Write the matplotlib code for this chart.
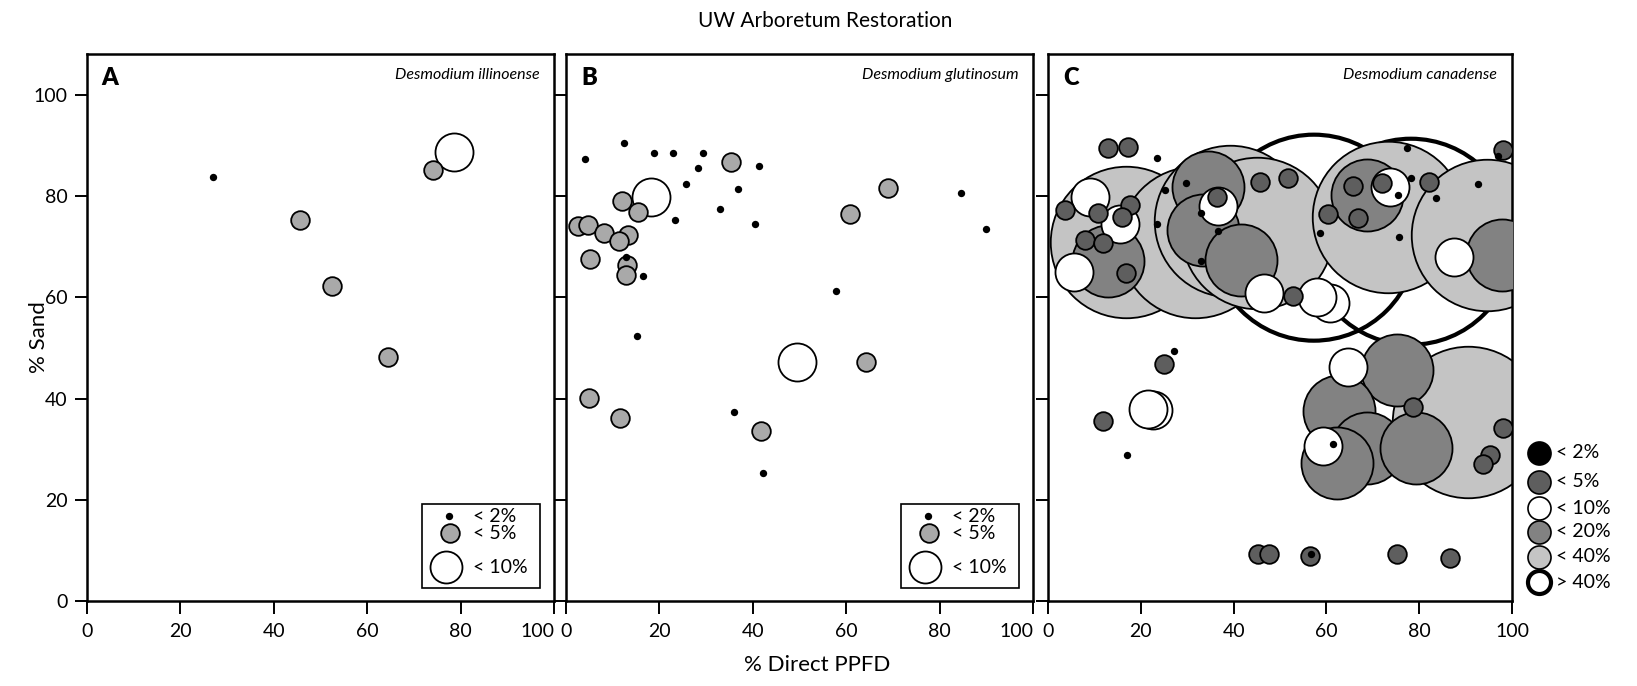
import matplotlib.pyplot as plt
from matplotlib import font_manager
from matplotlib.patches import Rectangle

plt.rcParams['font.family'] = ['Lato', 'DejaVu Sans']
installed = {f.name for f in font_manager.fontManager.ttflist}
species_font = 'Liberation Sans Narrow' if 'Liberation Sans Narrow' in installed else 'Lato'

# ---- data: % direct PPFD (x), % sand (y), by cover class ----
a_lt2_x = [27.0]
a_lt2_y = [83.8]
a_lt5_x = [45.7, 52.4, 64.5, 74.0]
a_lt5_y = [75.3, 62.3, 48.3, 85.2]
a_lt10_x = [78.6]
a_lt10_y = [88.7]

b_lt2_x = [4.1, 12.3, 18.9, 22.8, 29.3, 28.2, 41.4, 25.7, 36.8, 32.9, 23.3, 40.5,
           84.6, 89.9, 57.7, 12.8, 16.4, 15.2, 36.0, 42.2]
b_lt2_y = [87.4, 90.6, 88.5, 88.5, 88.5, 85.5, 86.0, 82.4, 81.5, 77.4, 75.3, 74.5,
           80.6, 73.6, 61.3, 68.0, 64.3, 52.3, 37.3, 25.3]
b_lt5_x = [35.4, 69.0, 60.8, 11.9, 15.4, 2.6, 4.6, 8.2, 13.3, 11.4, 5.1, 13.0, 12.8,
           4.9, 11.6, 64.3, 41.8]
b_lt5_y = [86.7, 81.6, 76.4, 79.1, 76.8, 74.2, 74.3, 72.7, 72.3, 71.2, 67.6, 66.4, 64.4,
           40.1, 36.2, 47.2, 33.6]
b_lt10_x = [18.1, 49.4]
b_lt10_y = [79.8, 47.2]

c_gt40_x = [57.3, 78.2]
c_gt40_y = [71.8, 71.0]
c_lt40_x = [16.8, 31.7, 39.2, 45.0, 73.2, 94.6, 90.5]
c_lt40_y = [71.0, 70.9, 75.0, 72.7, 75.8, 72.3, 35.4]
c_lt20_x = [12.9, 34.5, 33.5, 41.5, 68.7, 97.8, 75.1, 62.8, 68.8, 62.2, 79.2]
c_lt20_y = [67.2, 81.8, 73.3, 67.3, 80.2, 68.4, 45.7, 37.6, 30.2, 27.3, 30.2]
c_lt10_x = [9.1, 15.5, 5.5, 36.7, 73.7, 87.4, 46.6, 60.8, 58.0, 64.7, 59.3, 22.7, 21.6]
c_lt10_y = [79.8, 74.6, 65.1, 78.1, 81.8, 68.0, 60.8, 58.8, 60.0, 46.3, 30.6, 37.7, 37.9]
c_lt5_x = [13.0, 17.3, 3.7, 10.8, 17.7, 15.9, 8.0, 11.9, 16.8, 36.4, 45.7, 51.8, 60.4,
           65.8, 71.9, 82.0, 66.9, 52.7, 98.1, 24.9, 11.8, 78.6, 98.0, 95.3, 93.8,
           45.3, 47.7, 56.5, 75.1, 86.6]
c_lt5_y = [89.5, 89.8, 77.3, 76.6, 78.3, 75.9, 71.3, 70.7, 64.9, 79.9, 82.9, 83.5, 76.4,
           82.0, 82.7, 82.9, 75.6, 60.3, 89.1, 46.8, 35.6, 38.3, 34.1, 28.9, 27.1,
           9.3, 9.3, 8.8, 9.3, 8.4]
c_lt2_x = [23.4, 25.2, 23.4, 29.7, 33.0, 36.7, 32.9, 58.6, 77.3, 78.2, 75.4, 83.6,
           75.7, 92.7, 27.2, 17.1, 61.5, 56.6, 97.0]
c_lt2_y = [87.5, 81.2, 74.6, 82.7, 76.6, 73.1, 67.1, 72.8, 89.5, 83.5, 80.2, 79.6,
           71.9, 82.4, 49.5, 28.9, 31.0, 9.2, 88.0]

ticks = [0, 20, 40, 60, 80, 100]
tick_labels = ['0', '20', '40', '60', '80', '100']
panel_letters = ['A', 'B', 'C']
species = ['Desmodium illinoense', 'Desmodium glutinosum', 'Desmodium canadense']
ab_labels = ['< 2%', '< 5%', '< 10%']
c_labels = ['< 2%', '< 5%', '< 10%', '< 20%', '< 40%', '> 40%']

# marker styles (size in pt^2)
S2, S5, S10, S20, S40, S41 = 28, 180, 750, 2690, 11900, 22000
GRAY_AB = '#a9a9a9'
GRAY5_C = '#5e5e5e'
GRAY20_C = '#828282'
GRAY40_C = '#c4c4c4'

fig = plt.figure(figsize=(16.37, 6.86), dpi=100)
bottom, height = 0.1239, 0.7974
lefts = [0.0530, 0.3458, 0.6402]
widths = [0.2855, 0.2853, 0.2835]
axes = [fig.add_axes([l, bottom, w, height]) for l, w in zip(lefts, widths)]

for i, ax in enumerate(axes):
    ax.set_xlim(0, 100)
    ax.set_ylim(0, 108.1)
    ax.set_xticks(ticks, labels=tick_labels)
    ax.set_yticks(ticks, labels=tick_labels)
    ax.tick_params(direction='out', length=9, width=1.4, labelsize=14, pad=5)
    ax.tick_params(axis='x', pad=7)
    if i > 0:
        ax.tick_params(labelleft=False)
    if i < 2:
        # "100" at the shared edge sits to the left, as in the original
        ax.get_xticklabels()[-1].set_horizontalalignment('right')
    for sp in ax.spines.values():
        sp.set_linewidth(1.8)
    ax.text(0.032, 0.977, panel_letters[i], transform=ax.transAxes, fontsize=17,
            fontweight='heavy', ha='left', va='top')
    ax.text(0.968, 0.962, species[i], transform=ax.transAxes, fontsize=11.5,
            family=species_font, style='italic', ha='right', va='center')

edge = dict(edgecolors='black', linewidths=1.3)

# panel A
ax = axes[0]
ax.scatter(a_lt10_x, a_lt10_y, s=S10, c='white', **edge, zorder=2)
ax.scatter(a_lt5_x, a_lt5_y, s=S5, c=GRAY_AB, **edge, zorder=3)
ax.scatter(a_lt2_x, a_lt2_y, s=S2, c='black', linewidths=0, zorder=4)

# panel B
ax = axes[1]
ax.scatter(b_lt10_x, b_lt10_y, s=S10, c='white', **edge, zorder=2)
ax.scatter(b_lt5_x, b_lt5_y, s=S5, c=GRAY_AB, **edge, zorder=3)
ax.scatter(b_lt2_x, b_lt2_y, s=S2, c='black', linewidths=0, zorder=4)

# legends for A and B
for ax in axes[:2]:
    ax.add_patch(Rectangle((0.718, 0.024), 0.252, 0.154, transform=ax.transAxes,
                           facecolor='white', edgecolor='black', lw=1.2, zorder=5))
    ax.scatter([0.776], [0.155], s=S2, c='black', linewidths=0,
               transform=ax.transAxes, zorder=6)
    ax.scatter([0.778], [0.124], s=S5, c=GRAY_AB, **edge,
               transform=ax.transAxes, zorder=6)
    ax.scatter([0.768], [0.062], s=530, c='white', **edge,
               transform=ax.transAxes, zorder=6)
    for lab, yy in zip(ab_labels, [0.155, 0.124, 0.062]):
        ax.text(0.826, yy, lab, transform=ax.transAxes, fontsize=14,
                ha='left', va='center', zorder=7)

# panel C
ax = axes[2]
ax.scatter(c_gt40_x, c_gt40_y, s=S41, facecolors='none', edgecolors='black',
           linewidths=3.0, zorder=1)
ax.scatter(c_lt40_x, c_lt40_y, s=S40, c=GRAY40_C, **edge, zorder=2)
ax.scatter(c_lt20_x, c_lt20_y, s=S20, c=GRAY20_C, **edge, zorder=3)
ax.scatter(c_lt10_x, c_lt10_y, s=S10, c='white', **edge, zorder=4)
ax.scatter(c_lt5_x, c_lt5_y, s=S5, c=GRAY5_C, **edge, zorder=5)
ax.scatter(c_lt2_x, c_lt2_y, s=S2, c='black', linewidths=0, zorder=6)

# legend for C, outside the frame
leg_y = [0.2706, 0.218, 0.170, 0.1267, 0.081, 0.034]
leg_face = ['black', GRAY5_C, 'white', GRAY20_C, GRAY40_C, 'white']
for k, (lab, yy) in enumerate(zip(c_labels, leg_y)):
    lw = 3.0 if k == 5 else 1.2
    ax.scatter([1.058], [yy], s=275, c=leg_face[k], edgecolors='black', linewidths=lw,
               transform=ax.transAxes, clip_on=False, zorder=6)
    ax.text(1.095, yy, lab, transform=ax.transAxes, fontsize=14,
            ha='left', va='center')

fig.text(825 / 1637, 1 - 21 / 686, 'UW Arboretum Restoration', ha='center',
         va='center', fontsize=15)
fig.text(38.6 / 1637, 1 - 337 / 686, '% Sand', rotation=90, ha='center',
         va='center', fontsize=16)
fig.text(817 / 1637, 1 - 665 / 686, '% Direct PPFD', ha='center', va='center',
         fontsize=16)

fig.savefig('out.png', dpi=100)
